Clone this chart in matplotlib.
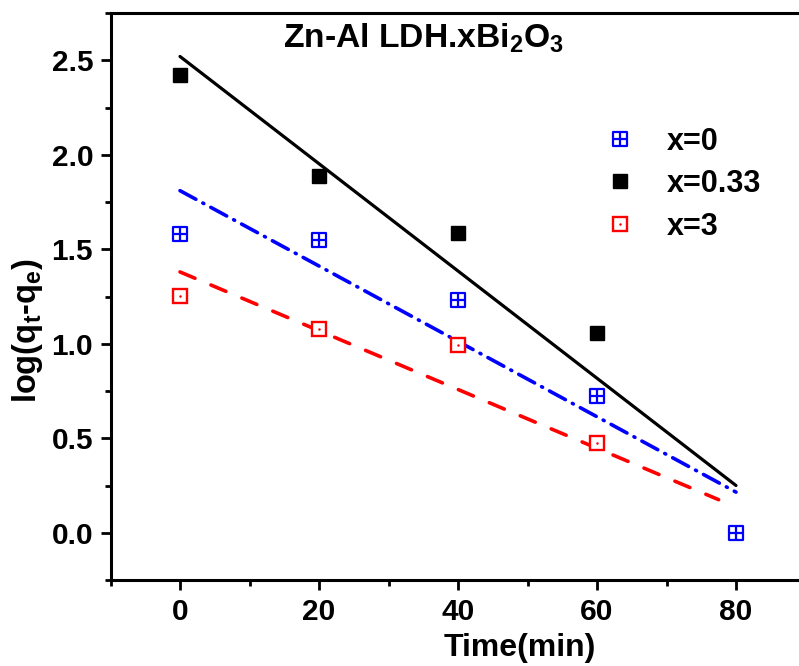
import matplotlib
matplotlib.use("Agg")
import matplotlib.pyplot as plt
from matplotlib.path import Path
from matplotlib.ticker import MultipleLocator

plt.rcParams['font.family'] = ['Liberation Sans', 'DejaVu Sans']
plt.rcParams['font.weight'] = 'bold'
plt.rcParams['mathtext.fontset'] = 'custom'
plt.rcParams['mathtext.rm'] = 'Liberation Sans:bold'
plt.rcParams['mathtext.it'] = 'Liberation Sans:bold'
plt.rcParams['mathtext.bf'] = 'Liberation Sans:bold'
plt.rcParams['mathtext.default'] = 'bf'

# Measured data: log(qt - qe) against contact time
time = [0, 20, 40, 60, 80]
x0_vals = [1.58, 1.55, 1.23, 0.725, 0.0]
time_033 = [0, 20, 40, 60]
x033_vals = [2.42, 1.885, 1.585, 1.055]
time_3 = [0, 20, 40, 60]
x3_vals = [1.255, 1.08, 0.995, 0.475]

# Linear-fit lines (end points)
fit_t = [0, 80]
fit_x0 = [1.81, 0.215]
fit_x033 = [2.52, 0.25]
fit_t3 = [0, 77.5]
fit_x3 = [1.38, 0.175]

series_labels = ['x=0', 'x=0.33', 'x=3']
title = r'Zn-Al LDH.xBi$_2$O$_3$'
xlabel = 'Time(min)'
ylabel = r'log(q$_t$-q$_e$)'

W, H = 799, 666
fig = plt.figure(figsize=(W / 100, H / 100), dpi=100)
ax = fig.add_axes([110.5 / W, (H - 580) / H, 695 / W, 567 / H])

# square-with-cross marker
boxcross = Path(
    [(-1, -1), (1, -1), (1, 1), (-1, 1), (-1, -1),
     (0, -1), (0, 1), (-1, 0), (1, 0)],
    [Path.MOVETO, Path.LINETO, Path.LINETO, Path.LINETO, Path.CLOSEPOLY,
     Path.MOVETO, Path.LINETO, Path.MOVETO, Path.LINETO])

blue = '#0000ff'
red = '#ff0000'

ax.plot(fit_t, fit_x033, color='black', lw=2.3, solid_capstyle='round')
ax.plot(fit_t, fit_x0, color=blue, lw=2.6, dashes=(5, 2.2, 0.3, 2.2),
        dash_capstyle='round')
ax.plot(fit_t3, fit_x3, color=red, lw=2.6, dashes=(4.5, 4.8),
        dash_capstyle='round')

h0, = ax.plot(time, x0_vals, ls='none', marker=boxcross, ms=10,
              mfc='white', mec=blue, mew=1.6)
h1, = ax.plot(time_033, x033_vals, ls='none', marker='s', ms=10.2,
              color='black', mec='black', mew=1)
h2a, = ax.plot(time_3, x3_vals, ls='none', marker='s', ms=9.6,
               mfc='white', mec=red, mew=1.7)
h2b, = ax.plot(time_3, x3_vals, ls='none', marker='o', ms=1.8,
               color=red, mew=0)

ax.set_xlim(-10, 90)
ax.set_ylim(-0.25, 2.75)
ax.xaxis.set_major_locator(MultipleLocator(20))
ax.xaxis.set_minor_locator(MultipleLocator(10))
ax.yaxis.set_major_locator(MultipleLocator(0.5))
ax.yaxis.set_minor_locator(MultipleLocator(0.25))

for s in ax.spines.values():
    s.set_linewidth(2.2)
ax.tick_params(which='major', direction='out', length=7, width=2,
               labelsize=21.5, pad=5.5)
ax.tick_params(which='minor', direction='out', length=4, width=2)
ax.tick_params(axis='x', which='major', pad=6)
for lab in ax.get_xticklabels() + ax.get_yticklabels():
    lab.set_fontweight('bold')

ax.set_xlabel(xlabel, fontsize=23, fontweight='bold')
ax.xaxis.set_label_coords(0.589, -0.094)
ax.set_ylabel(ylabel, fontsize=23.5, fontweight='bold')
ax.yaxis.set_label_coords(-0.094, 0.44)

fig.text(423.5 / W, 1 - 48 / H, title, ha='center', va='baseline',
         fontsize=24.2, fontweight='bold')

leg = ax.legend([h0, h1, (h2a, h2b)], series_labels,
                loc='upper left', bbox_to_anchor=(604.7 / W, 1 - 126.5 / H),
                bbox_transform=fig.transFigure, frameon=False,
                fontsize=22, handlelength=1.0, handletextpad=1.04,
                labelspacing=0.41, borderpad=0, borderaxespad=0)
for t in leg.get_texts():
    t.set_fontweight('bold')

fig.savefig('out.png', dpi=100)
